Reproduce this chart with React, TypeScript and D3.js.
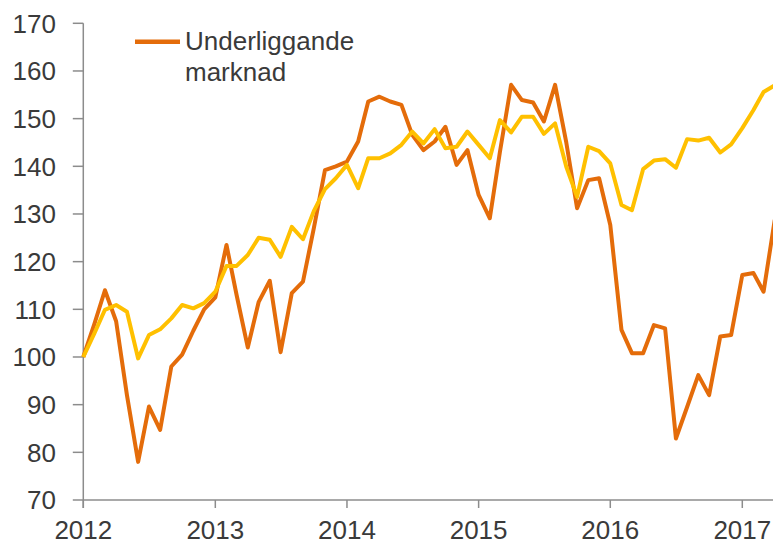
import React, { useEffect } from "react";
import * as d3 from "d3";

const startYear = 2012;
const startMonth = 0;

const underlyingMarket: number[] = [
  100, 107, 114, 107.5, 92, 78, 89.6, 84.7, 98, 100.5, 105.5, 110,
  112.5, 123.5, 113, 102, 111.5, 116, 101, 113.4, 115.8, 127, 139.2, 140,
  141, 145.2, 153.6, 154.6, 153.6, 152.9, 146.6, 143.4, 145.2, 148.3, 140.3, 143.4,
  134, 129.1, 143, 157.1, 153.9, 153.4, 149.4, 157.1, 145, 131.2, 137.1, 137.5,
  127.7, 105.7, 100.8, 100.8, 106.7, 106, 82.9, 89.5, 96.2, 92, 104.3, 104.6,
  117.2, 117.6, 113.7, 128.8,
];

const secondSeries: number[] = [
  100, 105, 109.9, 110.9, 109.5, 99.7, 104.6, 105.8, 108.1, 110.9, 110.2, 111.3,
  113.7, 119.1, 119.1, 121.4, 125, 124.6, 121, 127.3, 124.7, 130.6, 135.2, 137.5,
  140.3, 135.4, 141.7, 141.7, 142.7, 144.5, 147.3, 144.8, 147.8, 143.8, 144.1, 147.3,
  144.5, 141.7, 149.7, 147.1, 150.4, 150.4, 146.8, 149, 139.9, 133.6, 144.1, 143.2,
  140.6, 131.9, 130.8, 139.4, 141.2, 141.5, 139.7, 145.7, 145.4, 146, 142.9, 144.6,
  148, 151.8, 155.6, 157,
];

const yTicks: number[] = [70, 80, 90, 100, 110, 120, 130, 140, 150, 160, 170];
const xTickYears: number[] = [2012, 2013, 2014, 2015, 2016, 2017];
const legendLines: string[] = ["Underliggande", "marknad"];

const W = 773;
const H = 544;
const ORANGE = "#E46C0A";
const YELLOW = "#FFC000";
const AXIS = "#8c8c8c";
const TEXT = "#3a3a3a";
const FONT = "'Liberation Sans', Arial, sans-serif";

export default function App() {
  useEffect(() => {
    document.body.style.margin = "0";
  }, []);

  const x = d3
    .scaleUtc()
    .domain([new Date(Date.UTC(2012, 0, 1)), new Date(Date.UTC(2017, 0, 1))])
    .range([83.3, 742.3]);
  const y = d3.scaleLinear().domain([70, 170]).range([500, 23.3]);

  const dateOf = (i: number) => new Date(Date.UTC(startYear, startMonth + i, 1));

  const line = d3
    .line<number>()
    .x((_, i) => x(dateOf(i)))
    .y((d) => y(d));

  const x0 = x.range()[0];
  const y0 = y(70);

  return (
    <svg
      width={W}
      height={H}
      style={{ position: "absolute", left: 0, top: 0, display: "block", background: "#fff" }}
      fontFamily={FONT}
    >
      <defs>
        <clipPath id="plotclip">
          <rect x={0} y={0} width={W} height={H} />
        </clipPath>
      </defs>
      {/* axes */}
      <line x1={x0} x2={x0} y1={y(170)} y2={y0 + 8} stroke={AXIS} strokeWidth={1.5} />
      <line x1={x0} x2={W} y1={y0} y2={y0} stroke={AXIS} strokeWidth={1.5} />
      {yTicks.map((t) => (
        <g key={"y" + t}>
          <line x1={x0 - 10.5} x2={x0} y1={y(t)} y2={y(t)} stroke={AXIS} strokeWidth={1.5} />
          <text
            x={56}
            y={y(t)}
            dy="0.36em"
            textAnchor="end"
            fontSize={26}
            fill={TEXT}
          >
            {t}
          </text>
        </g>
      ))}
      {xTickYears.map((yr) => {
        const px = x(new Date(Date.UTC(yr, 0, 1)));
        return (
          <g key={"x" + yr}>
            <line x1={px} x2={px} y1={y0} y2={y0 + 8} stroke={AXIS} strokeWidth={1.5} />
            <text x={px} y={539} textAnchor="middle" fontSize={26} fill={TEXT}>
              {yr}
            </text>
          </g>
        );
      })}
      {/* series */}
      <g clipPath="url(#plotclip)">
        <path
          d={line(underlyingMarket) || ""}
          fill="none"
          stroke={ORANGE}
          strokeWidth={4}
          strokeLinejoin="round"
          strokeLinecap="butt"
        />
        <path
          d={line(secondSeries) || ""}
          fill="none"
          stroke={YELLOW}
          strokeWidth={4}
          strokeLinejoin="round"
          strokeLinecap="butt"
        />
      </g>
      {/* legend */}
      <line x1={135} x2={180} y1={41.7} y2={41.7} stroke={ORANGE} strokeWidth={4.5} />
      {legendLines.map((t, i) => (
        <text key={t} x={185} y={50 + i * 30.5} fontSize={26} fill={TEXT}>
          {t}
        </text>
      ))}
    </svg>
  );
}
